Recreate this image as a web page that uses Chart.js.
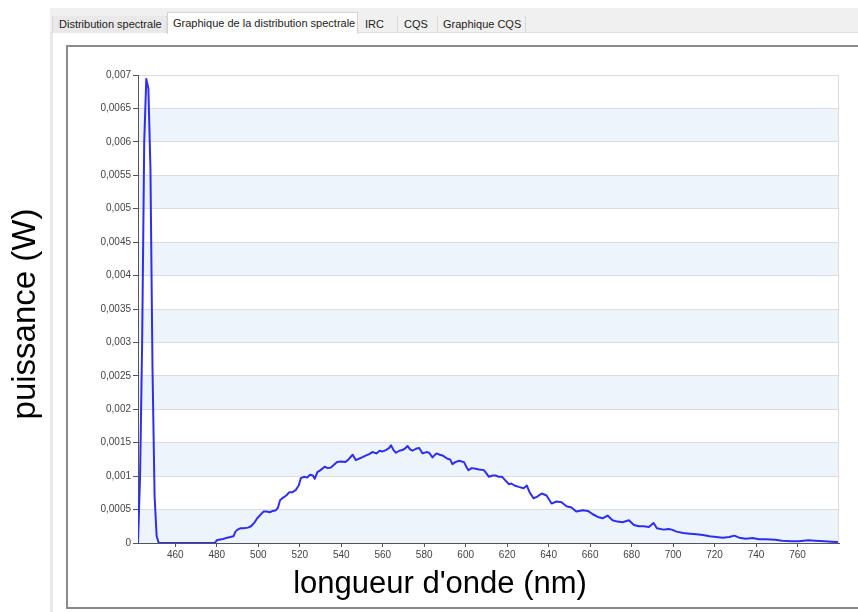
<!DOCTYPE html>
<html lang="fr">
<head>
<meta charset="utf-8">
<title>Graphique de la distribution spectrale</title>
<script src="https://cdn.jsdelivr.net/npm/chart.js@4/dist/chart.umd.min.js"></script>
<style>
  html, body { margin: 0; padding: 0; background: #fff; }
  #page { position: relative; width: 858px; height: 612px; overflow: hidden;
          font-family: "Liberation Sans", Arial, sans-serif; }
  .edge { position: absolute; left: 50px; top: 8px; width: 3px; bottom: 0; background: #e9e9e9; }
  .tabbar { position: absolute; left: 50px; top: 8px; right: 0; height: 25px;
            background: #f0f0f0; border-bottom: 1px solid #e0e0e0; box-sizing: border-box; }
  .tab { position: absolute; top: 16px; height: 17px; line-height: 17px; font-size: 11px;
         color: #222; box-sizing: border-box; white-space: nowrap;
         border-right: 1px solid #d9d9d9; }
  .tab.first { background: #e9e9e9; border-left: 1px solid #d9d9d9; }
  .tab.active { top: 12px; height: 22px; line-height: 21px; background: #fff;
                border: 1px solid #d4d4d4; border-bottom: none; }
  .frame { position: absolute; left: 66px; top: 45px; width: 820px; height: 564px;
           border: 2px solid #8a8a8a; box-sizing: border-box; }
  canvas { position: absolute; left: 0; top: 0; }
</style>
</head>
<body>
<div id="page">
  <div class="edge"></div>
  <div class="tabbar"></div>
  <div class="tab first"  style="left:52px;  width:115px; padding-left:6px;">Distribution spectrale</div>
  <div class="tab active" style="left:167px; width:191px; padding-left:5px;">Graphique de la distribution spectrale</div>
  <div class="tab"        style="left:358px; width:40px;  padding-left:7px;">IRC</div>
  <div class="tab"        style="left:398px; width:40px;  padding-left:6px;">CQS</div>
  <div class="tab"        style="left:438px; width:88px;  padding-left:5px;">Graphique CQS</div>
  <div class="frame"></div>
  <canvas id="spd" width="858" height="612"></canvas>
</div>
<script>
// Spectral power distribution: wavelength (nm) and radiant power (W)
const wavelengths = [
  442, 443, 444, 445, 446, 447, 448, 449, 450, 451, 452,
  456, 460, 464, 468, 472, 476, 479, 480, 481, 483, 485, 486.5, 488, 489, 490,
  491.5, 493, 495, 496.5, 498, 499.5, 501, 502.5, 504, 505.5, 507, 508.5, 509.5,
  510.5, 512, 513.5, 515, 516.5, 518, 519.5, 520.5, 522, 523.5, 525, 526.3, 527.2,
  528.5, 530, 532, 533.5, 535, 536.5, 538, 540, 542, 543.5, 545.5, 547, 548.5,
  550, 552, 553.5, 555, 557, 558.5, 560, 561.5, 563, 564, 565.2, 566.4, 568,
  569.5, 571, 572, 573.2, 574.4, 576, 577.6, 579.2, 581, 582.4, 584, 585.9,
  587.5, 588.8, 591.2, 592.5, 593.6, 595, 596.8, 598, 599.2, 600.5, 601.3, 603,
  604.8, 606.5, 608.8, 610, 611.2, 613, 614.4, 616, 617.6, 619, 620.8, 622,
  623.5, 625.6, 627.9, 629.5, 630.8, 632.7, 634.3, 636.7, 639, 640.2, 641.4,
  643.8, 646.2, 648.6, 651, 653.3, 656.5, 658.9, 661.3, 663.7, 666, 668.4,
  670.8, 673.2, 675.6, 678.7, 681.1, 683.5, 685.9, 688.3, 690.6, 692.2, 695.4,
  697.8, 699.4, 701.7, 704.9, 708.1, 711.3, 714.4, 717.6, 720.8, 724, 727.1,
  729.5, 731.9, 735.1, 738.3, 741.4, 744.6, 749.4, 752.5, 757.3, 760.5, 765.2,
  768.4, 773.2, 776.3, 779.5
];
const power = [
  0, 0.0010, 0.0030, 0.0060, 0.00694, 0.0068, 0.0056, 0.0026, 0.0007, 0.0001, 0,
  0, 0, 0, 0, 0, 0, 0, 0.00004, 0.00005, 0.00006, 0.00008, 0.00009, 0.00010, 0.00017, 0.00020,
  0.00022, 0.00022, 0.00023, 0.00025, 0.00030, 0.00037, 0.00042, 0.00047, 0.00047, 0.00046, 0.00048, 0.00049, 0.00053,
  0.00064, 0.00068, 0.00071, 0.00076, 0.00076, 0.00079, 0.00086, 0.00097, 0.00099, 0.00098, 0.00102, 0.00101, 0.00096,
  0.00106, 0.00109, 0.00114, 0.00112, 0.00113, 0.00117, 0.00121, 0.00122, 0.00121, 0.00125, 0.00132, 0.00124, 0.00126,
  0.00128, 0.00131, 0.00133, 0.00136, 0.00134, 0.00138, 0.00137, 0.00139, 0.00142, 0.00146, 0.00139, 0.00135, 0.00138,
  0.00139, 0.00142, 0.00145, 0.00140, 0.00138, 0.00141, 0.00142, 0.00134, 0.00136, 0.00135, 0.00128, 0.00134,
  0.00132, 0.00131, 0.00126, 0.00125, 0.00118, 0.00121, 0.00123, 0.00122, 0.00121, 0.00113, 0.00109, 0.00112,
  0.00111, 0.00110, 0.00109, 0.00104, 0.00099, 0.00101, 0.00101, 0.00099, 0.00099, 0.00094, 0.00088, 0.00089,
  0.00086, 0.00084, 0.00082, 0.00086, 0.00076, 0.00067, 0.00069, 0.00074, 0.00071, 0.00065, 0.00059,
  0.00062, 0.00061, 0.00055, 0.00053, 0.00047, 0.00049, 0.00048, 0.00043, 0.00039, 0.00037, 0.00041,
  0.00034, 0.00032, 0.00031, 0.00034, 0.00027, 0.00025, 0.00025, 0.00024, 0.00030, 0.00022, 0.00020,
  0.00021, 0.00020, 0.00017, 0.00015, 0.00014, 0.00013, 0.00012, 0.00010, 0.00009, 0.00008, 0.00009,
  0.00011, 0.00008, 0.000065, 0.000075, 0.000055, 0.000055, 0.00005, 0.000035, 0.000025, 0.000025, 0.00004,
  0.000035, 0.000025, 0.00002, 0.000015
];

// Axis ticks
const xTickValues = [460, 480, 500, 520, 540, 560, 580, 600, 620, 640, 660, 680, 700, 720, 740, 760];
const yTickValues = [0, 0.0005, 0.001, 0.0015, 0.002, 0.0025, 0.003, 0.0035, 0.004,
                     0.0045, 0.005, 0.0055, 0.006, 0.0065, 0.007];
const yTickLabels = ['0', '0,0005', '0,001', '0,0015', '0,002', '0,0025', '0,003', '0,0035', '0,004',
                     '0,0045', '0,005', '0,0055', '0,006', '0,0065', '0,007'];
const xTitle = "longueur d'onde (nm)";
const yTitle = 'puissance (W)';

const FONT = "'Liberation Sans', Arial, sans-serif";
Chart.defaults.font.family = FONT;

// Alternating light-blue bands behind the plot, a thin right border, and the axis titles
const panelPlugin = {
  id: 'panel',
  beforeDraw(chart) {
    const { ctx, chartArea: a, scales: { y } } = chart;
    ctx.save();
    ctx.fillStyle = '#edf4fc';
    for (let i = 0; i + 1 < yTickValues.length; i += 2) {
      const yTop = y.getPixelForValue(yTickValues[i + 1]);
      const yBot = y.getPixelForValue(yTickValues[i]);
      ctx.fillRect(a.left, yTop, a.right - a.left, yBot - yTop);
    }
    ctx.strokeStyle = '#dcdcdc';
    ctx.lineWidth = 1;
    ctx.beginPath();
    ctx.moveTo(Math.round(a.right) - 0.5, a.top);
    ctx.lineTo(Math.round(a.right) - 0.5, a.bottom);
    ctx.stroke();
    ctx.restore();
  },
  afterDraw(chart) {
    const { ctx, chartArea: a } = chart;
    ctx.save();
    ctx.fillStyle = '#000';
    ctx.textAlign = 'center';
    ctx.textBaseline = 'alphabetic';
    // horizontal title, centred on the panel
    ctx.font = '31px ' + FONT;
    ctx.fillText(xTitle, a.left + 302, a.bottom + 50);
    // vertical title, outside the panel on the left
    ctx.font = '33px ' + FONT;
    ctx.translate(a.left - 103, (a.top + a.bottom) / 2 + 5);
    ctx.rotate(-Math.PI / 2);
    ctx.fillText(yTitle, 0, 0);
    ctx.restore();
  }
};

new Chart(document.getElementById('spd'), {
  type: 'line',
  data: {
    datasets: [{
      data: wavelengths.map((w, i) => ({ x: w, y: power[i] })),
      borderColor: '#2e2ef2',
      borderWidth: 2,
      borderJoinStyle: 'round',
      pointRadius: 0,
      fill: false,
      tension: 0
    }]
  },
  options: {
    responsive: false,
    animation: false,
    devicePixelRatio: 1,
    layout: { padding: { top: 75, right: 19, bottom: 0, left: 0 } },
    plugins: { legend: { display: false }, tooltip: { enabled: false } },
    scales: {
      x: {
        type: 'linear',
        min: 442,
        max: 780,
        afterFit: (s) => { s.height = 69; },
        afterBuildTicks: (s) => { s.ticks = xTickValues.map(v => ({ value: v })); },
        ticks: {
          autoSkip: false, maxRotation: 0, padding: 2,
          color: '#444', font: { size: 10 },
          callback: (v) => String(v)
        },
        grid: { drawOnChartArea: false, drawTicks: true, tickLength: 4, tickColor: '#555' },
        border: { color: '#555', width: 1 },
        title: { display: false }
      },
      y: {
        min: 0,
        max: 0.007,
        afterFit: (s) => { s.width = 138; },
        afterBuildTicks: (s) => { s.ticks = yTickValues.map(v => ({ value: v })); },
        ticks: {
          autoSkip: false, padding: 2,
          color: '#444', font: { size: 10 },
          callback: (v) => yTickLabels[yTickValues.indexOf(v)]
        },
        grid: { color: '#dcdcdc', drawTicks: true, tickLength: 5, tickColor: '#555' },
        border: { color: '#555', width: 1 },
        title: { display: false }
      }
    }
  },
  plugins: [panelPlugin]
});
</script>
</body>
</html>
